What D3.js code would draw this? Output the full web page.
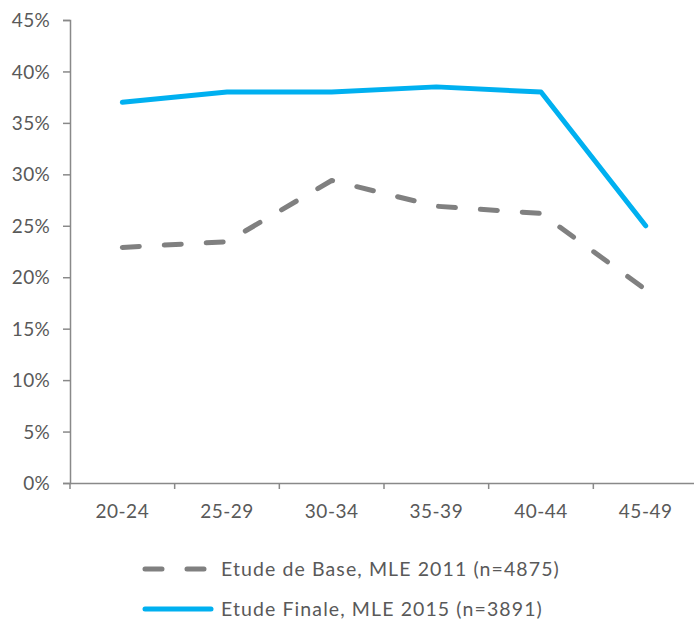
<!DOCTYPE html>
<html>
<head>
<meta charset="utf-8">
<script src="https://cdn.jsdelivr.net/npm/d3@7"></script>
<style>
  body { margin: 0; background: #fff; }
  text { font-family: Lato, "Open Sans", sans-serif; fill: #595959; }
</style>
</head>
<body>
<svg width="694" height="621"></svg>
<script>
// age groups and shares (%)
var categories = ["20-24", "25-29", "30-34", "35-39", "40-44", "45-49"];
var baseValues = [22.9, 23.45, 29.4, 26.9, 26.2, 18.8];
var finalValues = [37, 38, 38, 38.5, 38, 25];
var yTicks = [0, 5, 10, 15, 20, 25, 30, 35, 40, 45];
var seriesNames = ["Etude de Base, MLE 2011 (n=4875)", "Etude Finale, MLE 2015 (n=3891)"];

var svg = d3.select("svg"),
    margin = { top: 20, right: -4, bottom: 138, left: 70 },
    width = +svg.attr("width") - margin.left - margin.right,
    height = +svg.attr("height") - margin.top - margin.bottom,
    g = svg.append("g").attr("transform", "translate(" + margin.left + "," + margin.top + ")");

var x = d3.scaleBand().domain(categories).range([0, width]);
var y = d3.scaleLinear().domain([0, 45]).range([height, 0]);

var axisColor = "#898989";

// y axis
var yAxis = g.append("g")
    .call(d3.axisLeft(y).tickValues(yTicks).tickSize(7).tickPadding(13).tickFormat(d => d + "%"));
yAxis.selectAll("text").style("font-size", "19px").style("letter-spacing", "0.3px").attr("dy", "0.35em");
yAxis.selectAll("line, path").attr("stroke", axisColor).attr("stroke-width", 1.5);

// x axis labels
var xAxis = g.append("g")
    .attr("transform", "translate(0," + height + ")")
    .call(d3.axisBottom(x).tickSize(0).tickPadding(22));
xAxis.selectAll("text").style("font-size", "19px").style("letter-spacing", "0.5px");
xAxis.select(".domain").attr("stroke", axisColor).attr("stroke-width", 1.5);

// tick marks at band boundaries
var bounds = categories.map(c => x(c)).concat([width]);
g.append("g").selectAll("line")
    .data(bounds)
    .join("line")
    .attr("x1", d => d).attr("x2", d => d)
    .attr("y1", height).attr("y2", height + 6)
    .attr("stroke", axisColor)
    .attr("stroke-width", 1.5);

var line = d3.line()
    .x((d, i) => x(categories[i]) + x.bandwidth() / 2)
    .y(d => y(d));

g.append("path")
    .datum(baseValues)
    .attr("fill", "none")
    .attr("stroke", "#808080")
    .attr("stroke-width", 5)
    .attr("stroke-linecap", "round")
    .attr("stroke-linejoin", "round")
    .attr("stroke-dasharray", "17,25")
    .attr("d", line);

g.append("path")
    .datum(finalValues)
    .attr("fill", "none")
    .attr("stroke", "#00B0F0")
    .attr("stroke-width", 5)
    .attr("stroke-linecap", "round")
    .attr("stroke-linejoin", "round")
    .attr("d", line);

// legend
var legend = svg.append("g");
var items = [
    { name: seriesNames[0], color: "#808080", dash: "17,25", y: 569 },
    { name: seriesNames[1], color: "#00B0F0", dash: null, y: 609 }
];
var li = legend.selectAll("g").data(items).join("g")
    .attr("transform", d => "translate(0," + d.y + ")");
li.append("line")
    .attr("x1", 145).attr("x2", d => d.dash ? 207 : 211)
    .attr("stroke", d => d.color)
    .attr("stroke-width", 5)
    .attr("stroke-linecap", "round")
    .attr("stroke-dasharray", d => d.dash);
li.append("text")
    .attr("x", 221)
    .attr("dy", "0.35em")
    .style("font-size", "19.5px")
    .style("letter-spacing", "1.1px")
    .text(d => d.name);
</script>
</body>
</html>
